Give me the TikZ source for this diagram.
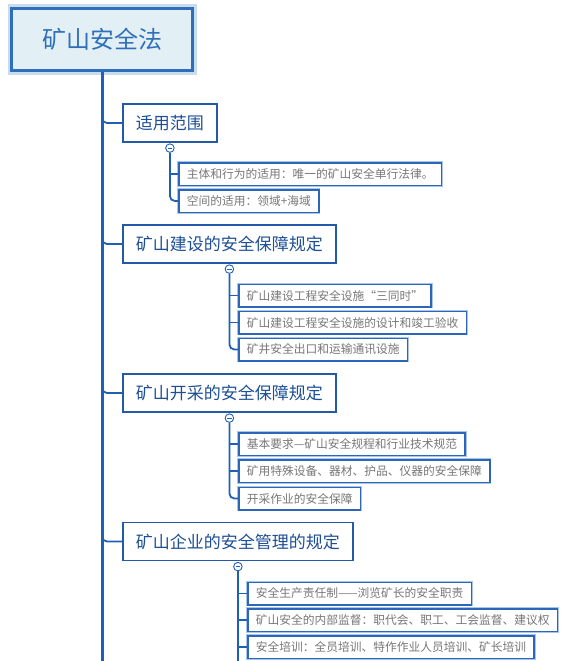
\documentclass[tikz,border=0pt]{standalone}
\usepackage{fontspec}
\setmainfont{Noto Sans CJK SC}
\usepackage{tikz}
\usetikzlibrary{positioning}

\definecolor{rootline}{HTML}{2F6FB8}
\definecolor{rootfill}{HTML}{E2EFF5}
\definecolor{rootglow}{HTML}{C8DCEE}
\definecolor{topicline}{HTML}{2459A8}
\definecolor{topictext}{HTML}{1D4F95}
\definecolor{leafline}{HTML}{2B66B9}
\definecolor{leafglow}{HTML}{A9C6E8}
\definecolor{leaftext}{HTML}{777777}
\definecolor{branchline}{HTML}{1F5FB4}

\tikzset{
  root/.style={draw=rootline, line width=2.5pt, fill=rootfill, text=rootline,
    font=\fontsize{24}{28}\selectfont, minimum width=181pt, minimum height=62pt,
    inner sep=0pt, preaction={draw=rootglow, line width=8pt, rounded corners=3pt}},
  topic/.style={draw=topicline, line width=1.8pt, fill=white, text=topictext,
    font=\fontsize{17}{20}\selectfont, anchor=west, inner xsep=13pt,
    inner ysep=0pt, minimum height=38pt},
  leaf/.style={draw=leafline, line width=1.5pt, fill=white, text=leaftext,
    font=\fontsize{11.75}{14}\selectfont, anchor=west, inner xsep=8pt,
    inner ysep=0pt, minimum height=22.5pt,
    preaction={draw=leafglow, line width=3.2pt}},
  trunk/.style={draw=branchline, line width=3pt},
  twig/.style={draw=branchline, line width=1.8pt, rounded corners=5pt},
  fold/.style={circle, draw=branchline, fill=white, line width=0.9pt,
    minimum size=8.5pt, inner sep=0pt},
}

\begin{document}
\begin{tikzpicture}[x=1pt, y=-1pt]
        \useasboundingbox[fill=white] (0,0) rectangle (584,661);
        \clip (0,0) rectangle (584,661);

        % root and main line
        \coordinate (bottom) at (102,670);
        \node[root] (root) at (102,39.5) {矿山安全法};
        \draw[trunk] (root.south) -- (bottom);

        % topics
        \node[topic] (t1) at (122,123)   {适用范围};
        \node[topic] (t2) at (122,244)   {矿山建设的安全保障规定};
        \node[topic] (t3) at (122,393)   {矿山开采的安全保障规定};
        \node[topic] (t4) at (122,541.5) {矿山企业的安全管理的规定};

        \foreach \t in {t1,t2,t3,t4}
          \draw[twig] ([yshift=6pt]root.south |- \t.west) |- (\t.west);

        % fold buttons
        \node[fold, below=0.5pt of t1] (f1) {};
        \node[fold, below=0.5pt of t2] (f2) {};
        \node[fold, below=0.5pt of t3] (f3) {};
        \node[fold, below=0.5pt of t4] (f4) {};
        \foreach \f in {f1,f2,f3,f4}
          \draw[branchline, line width=0.8pt]
            ([xshift=-2.2pt]\f.center) -- ([xshift=2.2pt]\f.center);

        % leaves
        \node[leaf] (k11) at (178,174) {主体和行为的适用：唯一的矿山安全单行法律。};
        \node[leaf] (k12) at (178,201) {空间的适用：领域+海域};

        \node[leaf] (k21) at (238,295.5) {矿山建设工程安全设施“三同时”};
        \node[leaf] (k22) at (238,322.5) {矿山建设工程安全设施的设计和竣工验收};
        \node[leaf] (k23) at (238,349.5) {矿井安全出口和运输通讯设施};

        \node[leaf] (k31) at (238,444)   {基本要求—矿山安全规程和行业技术规范};
        \node[leaf] (k32) at (238,471)   {矿用特殊设备、器材、护品、仪器的安全保障};
        \node[leaf] (k33) at (238,498.5) {开采作业的安全保障};

        \node[leaf] (k41) at (247,593.5) {安全生产责任制——浏览矿长的安全职责};
        \node[leaf] (k42) at (247,620)   {矿山安全的内部监督：职代会、职工、工会监督、建议权};
        \node[leaf] (k43) at (247,647)   {安全培训：全员培训、特作作业人员培训、矿长培训};

        \draw[twig] (f1.south) |- (k12.west);
        \draw[twig] (f1.south |- k11.west) -- (k11.west);

        \draw[twig] (f2.south) |- (k23.west);
        \draw[twig] (f2.south |- k21.west) -- (k21.west)
                    (f2.south |- k22.west) -- (k22.west);

        \draw[twig] (f3.south) |- (k33.west);
        \draw[twig] (f3.south |- k31.west) -- (k31.west)
                    (f3.south |- k32.west) -- (k32.west);

        \draw[twig] (f4.south) -- (f4.south |- bottom);
        \draw[twig] (f4.south |- k41.west) -- (k41.west)
                    (f4.south |- k42.west) -- (k42.west)
                    (f4.south |- k43.west) -- (k43.west);
\end{tikzpicture}
\end{document}
